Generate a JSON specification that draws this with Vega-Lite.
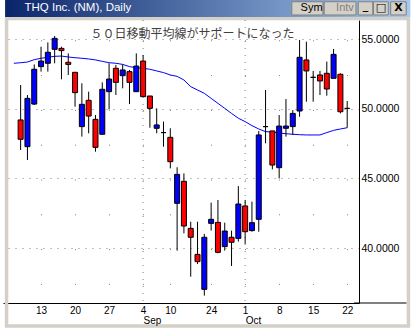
{
"$schema": "https://vega.github.io/schema/vega-lite/v6.json",
"width": 356,
"height": 283,
"autosize": {"type": "none"},
"padding": {"left": 3, "top": 20, "right": 58, "bottom": 25},
"background": "white",
"config": {"view": {"stroke": null}, "axis": {"labelFont": "Liberation Sans", "labelFontSize": 10.5, "labelColor": "#000000"}},
"datasets": {
"candles": [
{"i":0,"date":"2001-08-08","o":49.20,"h":51.71,"l":47.04,"c":47.81},
{"i":1,"date":"2001-08-09","o":47.28,"h":50.99,"l":46.32,"c":50.75},
{"i":2,"date":"2001-08-10","o":50.34,"h":53.19,"l":50.27,"c":52.84},
{"i":3,"date":"2001-08-13","o":53.03,"h":54.46,"l":52.67,"c":53.43},
{"i":4,"date":"2001-08-14","o":53.27,"h":54.77,"l":52.67,"c":54.06},
{"i":5,"date":"2001-08-15","o":54.27,"h":55.23,"l":53.27,"c":55.06},
{"i":6,"date":"2001-08-16","o":54.34,"h":54.46,"l":52.12,"c":54.18},
{"i":7,"date":"2001-08-17","o":53.34,"h":53.98,"l":52.43,"c":53.19},
{"i":8,"date":"2001-08-20","o":52.62,"h":52.65,"l":50.15,"c":51.16},
{"i":9,"date":"2001-08-21","o":48.72,"h":51.83,"l":48.00,"c":50.32},
{"i":10,"date":"2001-08-22","o":50.61,"h":51.23,"l":48.24,"c":49.48},
{"i":11,"date":"2001-08-23","o":49.24,"h":49.55,"l":46.92,"c":47.23},
{"i":12,"date":"2001-08-24","o":48.17,"h":51.90,"l":48.17,"c":51.40},
{"i":13,"date":"2001-08-27","o":51.23,"h":53.27,"l":49.96,"c":52.14},
{"i":14,"date":"2001-08-28","o":52.91,"h":53.15,"l":50.99,"c":51.90},
{"i":15,"date":"2001-08-29","o":52.38,"h":53.19,"l":51.47,"c":52.79},
{"i":16,"date":"2001-08-30","o":52.67,"h":52.79,"l":50.34,"c":51.90},
{"i":17,"date":"2001-08-31","o":51.23,"h":53.98,"l":51.23,"c":53.07},
{"i":18,"date":"2001-09-04","o":53.43,"h":53.86,"l":50.87,"c":50.87},
{"i":19,"date":"2001-09-05","o":50.92,"h":50.92,"l":48.64,"c":50.03},
{"i":20,"date":"2001-09-06","o":48.60,"h":50.03,"l":48.24,"c":48.84},
{"i":21,"date":"2001-09-07","o":48.29,"h":49.08,"l":47.28,"c":48.29},
{"i":22,"date":"2001-09-10","o":47.95,"h":48.60,"l":45.72,"c":46.20},
{"i":23,"date":"2001-09-17","o":43.21,"h":45.80,"l":39.81,"c":45.29},
{"i":24,"date":"2001-09-18","o":44.79,"h":45.36,"l":41.05,"c":41.58},
{"i":25,"date":"2001-09-19","o":41.41,"h":41.89,"l":37.94,"c":40.77},
{"i":26,"date":"2001-09-20","o":39.54,"h":41.89,"l":38.85,"c":39.02},
{"i":27,"date":"2001-09-21","o":37.03,"h":41.01,"l":36.58,"c":40.77},
{"i":28,"date":"2001-09-24","o":41.77,"h":43.26,"l":41.25,"c":42.06},
{"i":29,"date":"2001-09-25","o":41.84,"h":43.45,"l":39.62,"c":39.69},
{"i":30,"date":"2001-09-26","o":40.10,"h":41.82,"l":39.81,"c":41.22},
{"i":31,"date":"2001-09-27","o":40.77,"h":41.25,"l":38.71,"c":40.41},
{"i":32,"date":"2001-09-28","o":40.69,"h":44.45,"l":40.46,"c":43.16},
{"i":33,"date":"2001-10-01","o":43.02,"h":43.45,"l":40.29,"c":41.17},
{"i":34,"date":"2001-10-02","o":41.25,"h":43.33,"l":41.17,"c":41.82},
{"i":35,"date":"2001-10-03","o":42.06,"h":48.40,"l":41.17,"c":48.12},
{"i":36,"date":"2001-10-04","o":48.72,"h":51.35,"l":47.52,"c":48.72},
{"i":37,"date":"2001-10-05","o":48.41,"h":48.41,"l":45.65,"c":45.96},
{"i":38,"date":"2001-10-08","o":45.77,"h":49.55,"l":45.00,"c":48.76},
{"i":39,"date":"2001-10-09","o":48.60,"h":50.70,"l":48.00,"c":48.76},
{"i":40,"date":"2001-10-10","o":48.72,"h":49.91,"l":48.12,"c":49.67},
{"i":41,"date":"2001-10-11","o":49.84,"h":54.94,"l":49.43,"c":53.70},
{"i":42,"date":"2001-10-12","o":53.51,"h":54.82,"l":50.51,"c":52.72},
{"i":43,"date":"2001-10-15","o":52.26,"h":52.72,"l":50.51,"c":52.26},
{"i":44,"date":"2001-10-16","o":52.43,"h":52.72,"l":50.99,"c":52.00},
{"i":45,"date":"2001-10-17","o":52.55,"h":53.39,"l":50.94,"c":51.42},
{"i":46,"date":"2001-10-18","o":52.19,"h":54.30,"l":52.19,"c":53.91},
{"i":47,"date":"2001-10-19","o":52.48,"h":52.55,"l":49.67,"c":49.79},
{"i":48,"date":"2001-10-22","o":50.03,"h":50.56,"l":48.64,"c":50.03}
],
"ma": [
{"i":-1,"ma":53.27},{"i":0,"ma":53.31},{"i":1,"ma":53.36},{"i":2,"ma":53.53},{"i":3,"ma":53.63},
{"i":4,"ma":53.70},{"i":5,"ma":53.77},{"i":6,"ma":53.79},{"i":7,"ma":53.72},{"i":8,"ma":53.67},
{"i":9,"ma":53.63},{"i":10,"ma":53.58},{"i":11,"ma":53.51},{"i":12,"ma":53.41},{"i":13,"ma":53.31},
{"i":14,"ma":53.27},{"i":15,"ma":53.19},{"i":16,"ma":53.03},{"i":17,"ma":52.95},{"i":18,"ma":52.91},
{"i":19,"ma":52.84},{"i":20,"ma":52.72},{"i":21,"ma":52.60},{"i":22,"ma":52.43},{"i":23,"ma":52.33},
{"i":24,"ma":52.07},{"i":25,"ma":51.59},{"i":26,"ma":51.35},{"i":27,"ma":51.11},{"i":28,"ma":50.75},
{"i":29,"ma":50.39},{"i":30,"ma":50.03},{"i":31,"ma":49.67},{"i":32,"ma":49.32},{"i":33,"ma":49.08},
{"i":34,"ma":48.79},{"i":35,"ma":48.55},{"i":36,"ma":48.36},{"i":37,"ma":48.33},{"i":38,"ma":48.26},
{"i":39,"ma":48.21},{"i":40,"ma":48.17},{"i":41,"ma":48.14},{"i":42,"ma":48.12},{"i":43,"ma":48.12},
{"i":44,"ma":48.12},{"i":45,"ma":48.29},{"i":46,"ma":48.45},{"i":47,"ma":48.55},{"i":48,"ma":48.64}
],
"months": [{"i":18,"month":"Sep"},{"i":33,"month":"Oct"}]
},
"resolve": {"axis": {"x": "independent", "y": "independent"}},
"layer": [
{"data": {"values": [{}]}, "mark": {"type": "rect", "filled": false, "color": "#D4D0C8", "strokeWidth": 3.5, "clip": false},
 "encoding": {"x": {"datum": -2.071, "axis": null}, "x2": {"datum": 57.0}, "y": {"datum": 34.397, "axis": null}, "y2": {"datum": 56.487}}},
{"data": {"values": [{}]}, "mark": {"type": "rect", "clip": false, "fill": {"gradient": "linear", "x1": 0, "y1": 0, "x2": 1, "y2": 0, "stops": [{"offset": 0, "color": "#0A246A"}, {"offset": 1, "color": "#A6CAF0"}]}},
 "encoding": {"x": {"datum": -2.286, "axis": null}, "x2": {"datum": 57.29}, "y": {"datum": 56.595, "axis": null}, "y2": {"datum": 57.816}}},
{"data": {"values": [{}]}, "mark": {"type": "rect", "clip": false, "fill": "#D4D0C8", "stroke": "#808080", "strokeWidth": 1},
 "encoding": {"x": {"datum": 39.86, "axis": null}, "x2": {"datum": 44.43}, "y": {"datum": 56.74, "axis": null}, "y2": {"datum": 57.69}}},
{"data": {"values": [{}]}, "mark": {"type": "rect", "clip": false, "fill": "#D4D0C8", "stroke": "#808080", "strokeWidth": 1},
 "encoding": {"x": {"datum": 44.62, "axis": null}, "x2": {"datum": 49.29}, "y": {"datum": 56.74, "axis": null}, "y2": {"datum": 57.69}}},
{"data": {"values": [{}]}, "mark": {"type": "rect", "clip": false, "fill": "#D4D0C8", "stroke": "#808080", "strokeWidth": 1},
 "encoding": {"x": {"datum": 49.62, "axis": null}, "x2": {"datum": 51.76}, "y": {"datum": 56.74, "axis": null}, "y2": {"datum": 57.69}}},
{"data": {"values": [{}]}, "mark": {"type": "rect", "clip": false, "fill": "#D4D0C8", "stroke": "#808080", "strokeWidth": 1},
 "encoding": {"x": {"datum": 51.86, "axis": null}, "x2": {"datum": 54.04}, "y": {"datum": 56.74, "axis": null}, "y2": {"datum": 57.69}}},
{"data": {"values": [{}]}, "mark": {"type": "rect", "clip": false, "fill": "#D4D0C8", "stroke": "#808080", "strokeWidth": 1},
 "encoding": {"x": {"datum": 54.39, "axis": null}, "x2": {"datum": 56.67}, "y": {"datum": 56.74, "axis": null}, "y2": {"datum": 57.69}}},
{"data": {"values": [{}]}, "mark": {"type": "text", "clip": false, "text": "Sym", "font": "Liberation Sans", "fontSize": 11, "color": "#000000", "align": "center", "baseline": "middle"},
 "encoding": {"x": {"datum": 42.76, "axis": null}, "y": {"datum": 57.21, "axis": null}}},
{"data": {"values": [{}]}, "mark": {"type": "text", "clip": false, "text": "Intv", "font": "Liberation Sans", "fontSize": 11, "color": "#808080", "align": "center", "baseline": "middle"},
 "encoding": {"x": {"datum": 47.67, "axis": null}, "y": {"datum": 57.21, "axis": null}}},
{"data": {"values": [{}]}, "mark": {"type": "text", "clip": false, "text": "_", "font": "DejaVu Sans", "fontSize": 11, "fontWeight": "bold", "color": "#000000", "align": "center", "baseline": "middle"},
 "encoding": {"x": {"datum": 50.69, "axis": null}, "y": {"datum": 57.35, "axis": null}}},
{"data": {"values": [{}]}, "mark": {"type": "text", "clip": false, "text": "□", "font": "DejaVu Sans", "fontSize": 11, "fontWeight": "bold", "color": "#000000", "align": "center", "baseline": "middle"},
 "encoding": {"x": {"datum": 52.96, "axis": null}, "y": {"datum": 57.21, "axis": null}}},
{"data": {"values": [{}]}, "mark": {"type": "text", "clip": false, "text": "X", "font": "DejaVu Sans", "fontSize": 11, "fontWeight": "bold", "color": "#000000", "align": "center", "baseline": "middle"},
 "encoding": {"x": {"datum": 55.53, "axis": null}, "y": {"datum": 57.21, "axis": null}}},
{"data": {"values": [{}]}, "mark": {"type": "text", "clip": false, "text": "THQ Inc. (NM), Daily", "font": "Liberation Sans", "fontSize": 11.5, "color": "#FFFFFF", "align": "left", "baseline": "middle"},
 "encoding": {"x": {"datum": 0.571, "axis": null}, "y": {"datum": 57.21, "axis": null}}},
{"data": {"name": "months"}, "mark": {"type": "rule", "color": "#808080", "strokeDash": [1, 6]},
 "encoding": {"x": {"field": "i", "type": "quantitative", "axis": {"orient": "bottom", "title": null, "values": [18, 33], "labelExpr": "datum.value == 18 ? 'Sep' : 'Oct'", "domain": false, "ticks": false, "grid": false, "labelAlign": "left", "labelDx": 1, "labelPadding": 2, "offset": 10, "labelFontSize": 10, "labelBaseline": "top", "labelFlush": false, "labelOverlap": false, "zindex": 1}}}},
{"data": {"name": "ma"}, "mark": {"type": "line", "color": "#0000FF", "strokeWidth": 1},
 "encoding": {"x": {"field": "i", "type": "quantitative", "axis": null}, "y": {"field": "ma", "type": "quantitative", "axis": null}}},
{"data": {"name": "candles"}, "mark": {"type": "rule", "color": "#000000", "strokeWidth": 1},
 "encoding": {
  "x": {"field": "i", "type": "quantitative", "scale": {"domain": [-1.857143, 49], "nice": false, "zero": false},
   "axis": {"orient": "bottom", "title": null, "values": [3, 8, 13, 18, 22, 28, 33, 38, 43, 48], "labelExpr": "['13','20','27','4','10','24','1','8','15','22'][indexof([3,8,13,18,22,28,33,38,43,48], datum.value)]", "domainColor": "#000000", "ticks": false, "labelPadding": 2, "labelFontSize": 10, "labelAngle": 0, "labelBaseline": "top", "labelAlign": "center", "labelFlush": false, "labelOverlap": false, "grid": true, "gridColor": "#808080", "gridDash": [1, 33.8], "gridDashOffset": 15}},
  "y": {"field": "l", "type": "quantitative", "scale": {"domain": [36.049, 56.379], "nice": false, "zero": false},
   "axis": {"title": null, "orient": "right", "values": [40, 45, 50, 55], "format": ".4f", "domainColor": "#000000", "ticks": false, "labelPadding": 2, "labelAlign": "left", "labelBaseline": "middle", "labelFlush": false, "labelOverlap": false, "grid": true, "gridColor": "#808080", "gridDash": [1, 6]}},
  "y2": {"field": "h"}}},
{"data": {"name": "candles"}, "mark": {"type": "bar", "size": 5, "stroke": "#000000", "strokeWidth": 1},
 "encoding": {"x": {"field": "i", "type": "quantitative", "axis": null}, "y": {"field": "o", "type": "quantitative", "axis": null}, "y2": {"field": "c"},
  "color": {"condition": {"test": "datum.c > datum.o", "value": "#0000FF"}, "value": "#FF0000"}}},
{"data": {"values": [{}]}, "mark": {"type": "rule", "color": "#000000", "clip": false},
 "encoding": {"x": {"datum": 49, "axis": null}, "x2": {"datum": 56.71}, "y": {"datum": 36.049, "axis": null}}},
{"data": {"values": [{}]}, "mark": {"type": "text", "text": "５０日移動平均線がサポートになった", "font": "Noto Sans CJK JP", "fontSize": 12, "color": "#404040", "align": "center", "baseline": "middle"},
 "encoding": {"x": {"datum": 25.26, "axis": null}, "y": {"datum": 55.37, "axis": null}}}
]
}
